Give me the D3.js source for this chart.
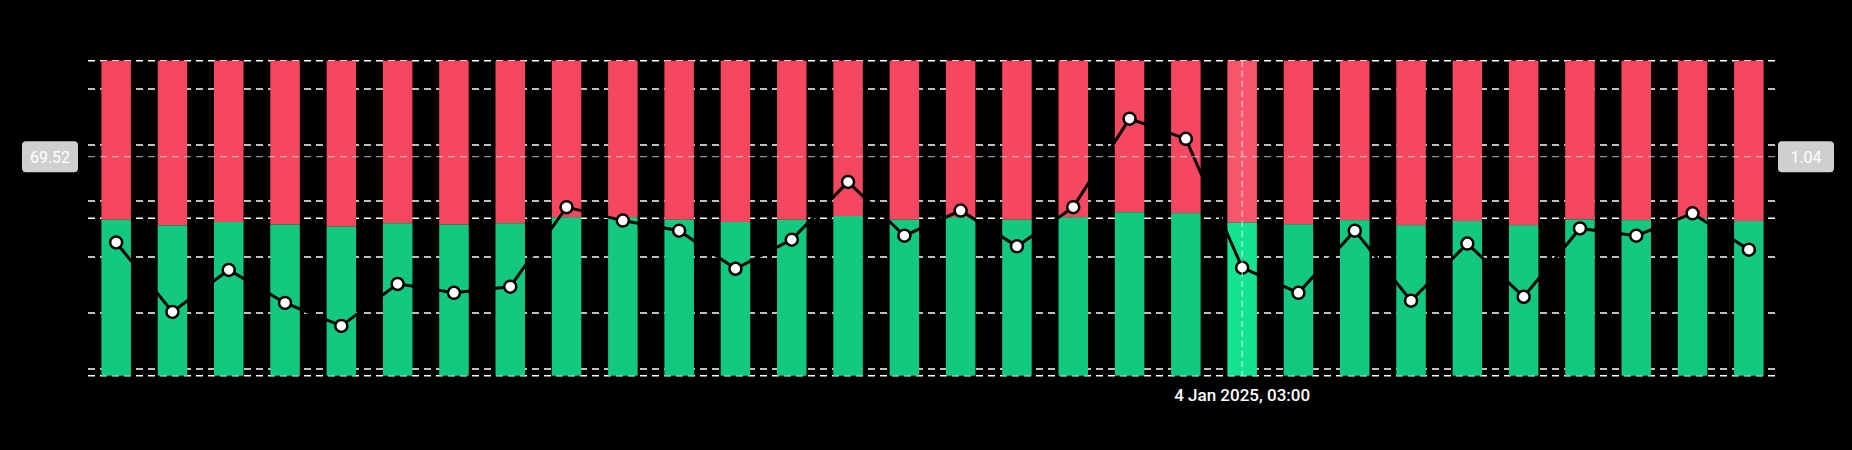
<!DOCTYPE html>
<html><head><meta charset="utf-8">
<script src="https://cdn.jsdelivr.net/npm/d3@7"></script>
<style>html,body{margin:0;background:#000;overflow:hidden}svg{display:block}</style>
</head><body><svg id="c" width="1852" height="450"></svg>
<script>
const times = ["2025-01-03T07:00","2025-01-03T08:00","2025-01-03T09:00","2025-01-03T10:00","2025-01-03T11:00","2025-01-03T12:00","2025-01-03T13:00","2025-01-03T14:00","2025-01-03T15:00","2025-01-03T16:00","2025-01-03T17:00","2025-01-03T18:00","2025-01-03T19:00","2025-01-03T20:00","2025-01-03T21:00","2025-01-03T22:00","2025-01-03T23:00","2025-01-04T00:00","2025-01-04T01:00","2025-01-04T02:00","2025-01-04T03:00","2025-01-04T04:00","2025-01-04T05:00","2025-01-04T06:00","2025-01-04T07:00","2025-01-04T08:00","2025-01-04T09:00","2025-01-04T10:00","2025-01-04T11:00","2025-01-04T12:00"];
const longPct = [49.5,47.7,48.8,48.0,47.3,48.4,48.0,48.4,50.3,50.3,49.5,48.8,49.5,50.7,49.5,50.3,49.5,50.3,51.9,51.6,48.6,48.1,49.4,47.8,49.1,47.8,49.6,49.4,50.0,49.1];
const ratio = [0.886,0.762,0.837,0.778,0.737,0.812,0.796,0.807,0.949,0.925,0.907,0.839,0.891,0.994,0.898,0.943,0.879,0.949,1.107,1.071,0.841,0.796,0.907,0.782,0.884,0.789,0.911,0.898,0.938,0.873];
const leftTicks = [0,50,100];
const rightTicks = [0.66,0.76,0.86,0.96,1.06,1.16];
const hoverIndex = 20, hoverLeft = "69.52", hoverRight = "1.04", hoverLabel = "4 Jan 2025, 03:00";

const svg = d3.select("#c");
const x = d3.scaleBand().domain(d3.range(times.length)).range([88,1777]).paddingInner(0.476).paddingOuter(0.238);
const yL = d3.scaleLinear().domain([0,100]).range([375.7,60.7]);
const yR = d3.scaleLinear().domain([1.06,1.16]).range([145,89]);
const dash = "7,5";
const grid = svg.append("g");
leftTicks.forEach(t=>grid.append("line").attr("x1",88).attr("x2",1777).attr("y1",yL(t)).attr("y2",yL(t)).attr("stroke","#fff").attr("stroke-width",1.5).attr("stroke-dasharray",dash));
rightTicks.forEach(t=>grid.append("line").attr("x1",88).attr("x2",1777).attr("y1",yR(t)).attr("y2",yR(t)).attr("stroke","#fff").attr("stroke-width",1.5).attr("stroke-dasharray",dash));

const bars = svg.append("g");
times.forEach((t,i)=>{
  const hi = i===hoverIndex;
  bars.append("rect").attr("x",x(i)).attr("width",x.bandwidth()).attr("y",yL(100)).attr("height",yL(longPct[i])-yL(100)).attr("fill",hi?"#f8566c":"#f5475f");
  bars.append("rect").attr("x",x(i)).attr("width",x.bandwidth()).attr("y",yL(longPct[i])).attr("height",yL(0)-yL(longPct[i])).attr("fill",hi?"#14e391":"#12c97f");
});
const cx = i=>x(i)+x.bandwidth()/2;
svg.append("path").datum(ratio).attr("fill","none").attr("stroke","#000").attr("stroke-width",3)
  .attr("d",d3.line().x((d,i)=>cx(i)).y(d=>yR(d)));
svg.append("g").selectAll("circle").data(ratio).join("circle").attr("cx",(d,i)=>cx(i)).attr("cy",d=>yR(d)).attr("r",6)
  .attr("fill","#fff").attr("stroke","#000").attr("stroke-width",2.5);

const hy = yL(+hoverLeft);
svg.append("line").attr("x1",88).attr("x2",1777).attr("y1",hy).attr("y2",hy).attr("stroke","rgba(255,255,255,0.55)").attr("stroke-width",1.2).attr("stroke-dasharray",dash);
svg.append("line").attr("x1",cx(hoverIndex)).attr("x2",cx(hoverIndex)).attr("y1",yL(100)).attr("y2",yL(0)).attr("stroke","rgba(255,255,255,0.7)").attr("stroke-width",1.2).attr("stroke-dasharray","6,4");
function box(xc,text){
  const w=56,h=31;
  svg.append("rect").attr("x",xc-w/2).attr("y",hy-h/2).attr("width",w).attr("height",h).attr("rx",4).attr("fill","#cfcfcf");
  svg.append("text").attr("x",xc).attr("y",hy+6).attr("text-anchor","middle").attr("fill","#fff").attr("font-family","Roboto, sans-serif").attr("font-size",16).text(text);
}
box(50,hoverLeft); box(1806,hoverRight);
svg.append("text").attr("x",cx(hoverIndex)).attr("y",401).attr("text-anchor","middle").attr("fill","#fff").attr("font-family","Roboto, sans-serif").attr("font-weight",500).attr("font-size",17).text(hoverLabel);
</script></body></html>
